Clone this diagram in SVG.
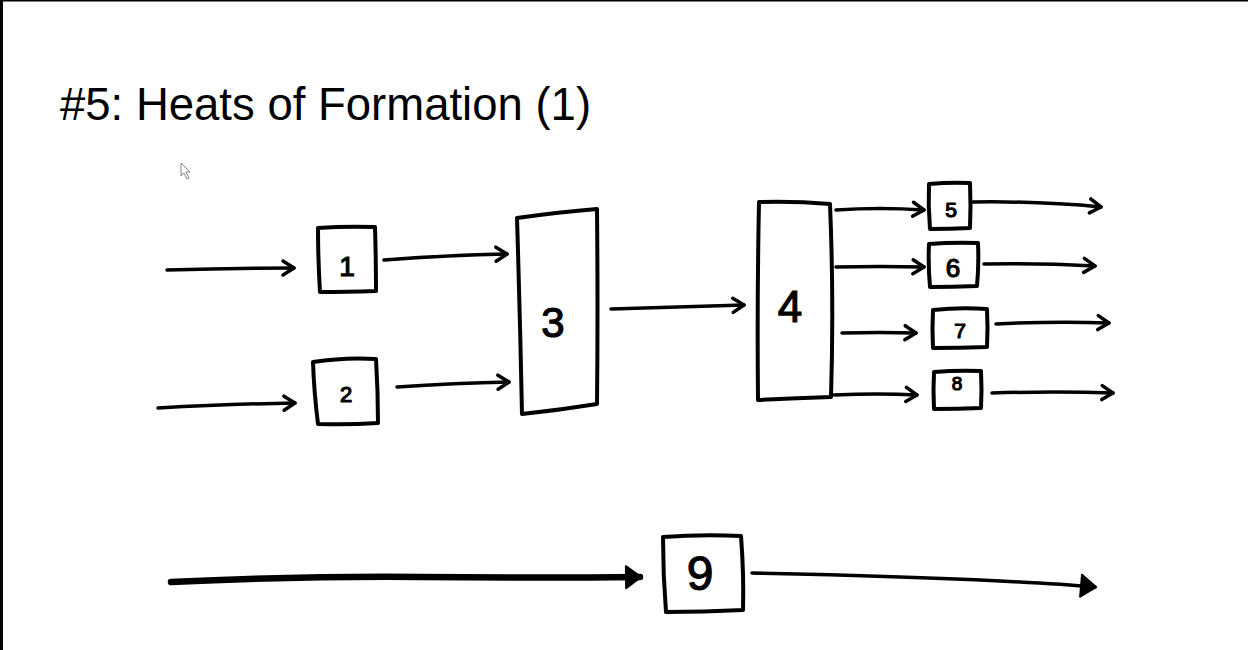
<svg xmlns="http://www.w3.org/2000/svg" width="1248" height="650" viewBox="0 0 1248 650">
<style>
.box{fill:#fff;stroke:#000;stroke-width:4;stroke-linejoin:round;stroke-linecap:round}
.ln{fill:none;stroke:#000;stroke-width:3.5;stroke-linecap:round}
.bold{fill:none;stroke:#000;stroke-width:6.5;stroke-linecap:round}
.lbl{font-family:"Liberation Sans",Arial,sans-serif;fill:#000;stroke:#000;stroke-width:1.2;text-anchor:middle}
.title{font-family:"Liberation Sans",Arial,sans-serif;font-size:45.5px;fill:#000}
</style>
<defs>
<marker id="chev" viewBox="0 0 14 16" refX="12" refY="8" markerWidth="14" markerHeight="16" markerUnits="userSpaceOnUse" orient="auto" overflow="visible">
<path d="M1,1 L12,8 L1,15" fill="none" stroke="#000" stroke-width="3.5" stroke-linecap="round" stroke-linejoin="round"/>
</marker>
<marker id="tri" viewBox="0 0 18 24" refX="16" refY="12" markerWidth="18" markerHeight="24" markerUnits="userSpaceOnUse" orient="auto" overflow="visible">
<path d="M2,1 L17,12 L2,23 Z" fill="#000" stroke="#000" stroke-width="2" stroke-linejoin="round"/>
</marker>
</defs>
<rect width="1248" height="650" fill="#fff"/>
<rect x="0" y="0" width="3" height="650" fill="#000"/>
<rect x="0" y="0" width="1248" height="1.5" fill="#000"/>
<text class="title" x="60" y="120">#5: Heats of Formation (1)</text>
<path d="M181,163 L181,176 L184,173 L187,179 L189,178 L186,172 L190,172 Z" fill="#fff" stroke="#888" stroke-width="1"/>
<g id="connectors">
<path class="ln" d="M167,270 Q230,268 294,268" marker-end="url(#chev)"/>
<path class="ln" d="M158,408 Q230,404 295,403" marker-end="url(#chev)"/>
<path class="ln" d="M384,260 Q450,255 507,254" marker-end="url(#chev)"/>
<path class="ln" d="M397,387 Q455,383 509,382" marker-end="url(#chev)"/>
<path class="ln" d="M611,309 Q680,307 744,305" marker-end="url(#chev)"/>
<path class="ln" d="M836,210 Q880,207 924,210" marker-end="url(#chev)"/>
<path class="ln" d="M836,267 Q880,266 924,267" marker-end="url(#chev)"/>
<path class="ln" d="M842,333 Q880,332 916,333" marker-end="url(#chev)"/>
<path class="ln" d="M834,395 Q878,393 917,395" marker-end="url(#chev)"/>
<path class="ln" d="M973,202 Q1040,201 1101,207" marker-end="url(#chev)"/>
<path class="ln" d="M984,264 Q1040,263 1095,266" marker-end="url(#chev)"/>
<path class="ln" d="M996,324 Q1055,321 1109,323" marker-end="url(#chev)"/>
<path class="ln" d="M992,393 Q1055,391 1113,393" marker-end="url(#chev)"/>
<path class="bold" d="M171,582 Q300,576 420,577 Q540,578 640,577" marker-end="url(#tri)"/>
<path class="ln" d="M752,573 Q900,576 1000,581 Q1060,584 1095,587" stroke-width="4" marker-end="url(#tri)"/>
</g>
<g id="n1"><path class="box" d="M318,228 Q345,226 375,227 Q376,260 376,291 Q346,292 320,292 Q318,260 318,228 Z"/><text class="lbl" x="347" y="276" font-size="28">1</text></g>
<g id="n2"><path class="box" d="M313,362 Q345,357 376,359 Q378,392 378,423 Q348,425 318,424 Q314,392 313,362 Z"/><text class="lbl" x="346" y="402" font-size="22">2</text></g>
<g id="n3"><path class="box" d="M517,218 Q560,212 597,209 Q598,310 597,404 Q560,410 522,414 Q520,315 517,218 Z"/><text class="lbl" x="553" y="337" font-size="42">3</text></g>
<g id="n4"><path class="box" d="M759,202 Q795,201 830,204 Q834,300 831,397 Q795,398 758,400 Q757,300 759,202 Z"/><text class="lbl" x="790" y="322" font-size="44">4</text></g>
<g id="n5"><path class="box" d="M929,184 Q950,182 970,183 Q971,206 970,228 Q950,229 930,229 Q928,206 929,184 Z"/><text class="lbl" x="951" y="217" font-size="21">5</text></g>
<g id="n6"><path class="box" d="M929,244 Q953,242 978,243 Q979,265 977,286 Q953,287 930,287 Q928,265 929,244 Z"/><text class="lbl" x="953" y="277" font-size="26">6</text></g>
<g id="n7"><path class="box" d="M933,310 Q960,307 987,309 Q988,328 987,347 Q960,348 933,348 Q932,329 933,310 Z"/><text class="lbl" x="960" y="338" font-size="21">7</text></g>
<g id="n8"><path class="box" d="M934,372 Q958,370 981,371 Q982,390 981,408 Q958,409 934,409 Q933,390 934,372 Z"/><text class="lbl" x="957" y="390" font-size="19">8</text></g>
<g id="n9"><path class="box" d="M663,537 Q702,534 741,536 Q744,575 743,610 Q704,612 666,612 Q663,575 663,537 Z"/><text class="lbl" x="700" y="590" font-size="48">9</text></g>
</svg>
